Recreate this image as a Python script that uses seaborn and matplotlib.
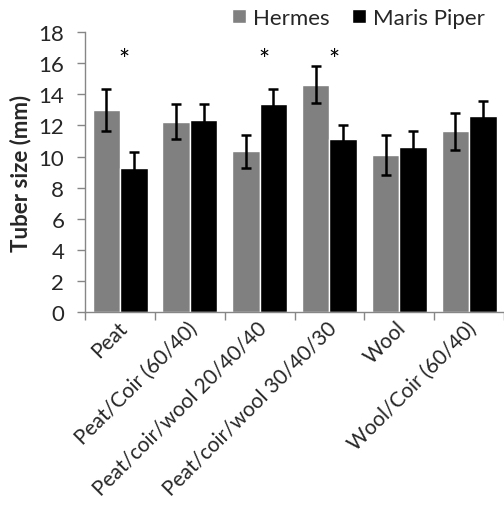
import matplotlib
matplotlib.use("Agg")
import matplotlib.pyplot as plt
import matplotlib.transforms as mtransforms
import seaborn as sns
import pandas as pd

categories = ["Peat", "Peat/Coir (60/40)", "Peat/coir/wool 20/40/40",
              "Peat/coir/wool 30/40/30", "Wool", "Wool/Coir (60/40)"]
hermes = [13.0, 12.25, 10.33, 14.62, 10.12, 11.62]
hermes_err = [1.35, 1.1, 1.05, 1.18, 1.3, 1.2]
maris = [9.25, 12.35, 13.35, 11.12, 10.63, 12.62]
maris_err = [1.02, 1.02, 1.02, 0.9, 1.02, 0.97]
varieties = ["Hermes", "Maris Piper"]
star_cats = ["Peat", "Peat/coir/wool 20/40/40", "Peat/coir/wool 30/40/30"]
yticks = list(range(0, 19, 2))

sns.set_theme(style="white")
plt.rcParams['font.family'] = ['Lato', 'DejaVu Sans']

df = pd.DataFrame({
    "substrate": categories * 2,
    "size": hermes + maris,
    "err": hermes_err + maris_err,
    "variety": [varieties[0]] * len(categories) + [varieties[1]] * len(categories),
})

fig = plt.figure(figsize=(5.04, 5.10), dpi=100)
ax = fig.add_axes([0.169, 0.386, 0.831, 0.549])

sns.barplot(data=df, x="substrate", y="size", hue="variety", order=categories,
            hue_order=varieties, palette=["#808080", "#000000"], width=0.79,
            errorbar=None, saturation=1, ax=ax, legend=True)

errs = [hermes_err, maris_err]
for cont, e in zip(ax.containers, errs):
    xs = [p.get_x() + p.get_width() / 2 for p in cont.patches]
    hs = [p.get_height() for p in cont.patches]
    ax.errorbar(xs, hs, yerr=e, fmt="none", ecolor="black", elinewidth=1.8,
                capsize=3.8, capthick=1.8)

for c in star_cats:
    i = categories.index(c)
    ax.text(i + 0.06, 16.2, "*", ha="center", va="center", fontsize=19, color="black")

ax.set_ylim(0, 18)
ax.set_xlim(-0.5, len(categories) - 0.5)
ax.set_yticks(yticks)
ax.set_yticklabels([str(t) for t in yticks], fontsize=16)
ax.set_xticks(range(len(categories)))
ax.set_xticklabels(categories, rotation=45, ha="right", rotation_mode="anchor", fontsize=15)
ax.tick_params(axis="x", length=0, pad=4)
ax.tick_params(axis="y", left=True, length=6, width=1, color="#868686", pad=9)
offset = mtransforms.ScaledTranslation(-3 / 100, 0, fig.dpi_scale_trans)
for lab in ax.get_xticklabels():
    lab.set_transform(lab.get_transform() + offset)
# category boundary ticks
ax.set_xticks([i - 0.5 for i in range(len(categories) + 1)], minor=True)
ax.tick_params(axis="x", which="minor", bottom=True, length=6, width=1, color="#868686")
ax.set_xlabel("")
ax.set_ylabel("Tuber size (mm)", fontsize=16, fontweight="bold", labelpad=5)

for s in ["top", "right"]:
    ax.spines[s].set_visible(False)
for s in ["left", "bottom"]:
    ax.spines[s].set_color("#868686")
    ax.spines[s].set_linewidth(1)

leg = ax.get_legend()
handles = leg.legend_handles
leg.remove()
fig.legend(handles, varieties, loc="upper right", bbox_to_anchor=(0.985, 1.005), ncol=2,
           frameon=False, fontsize=16, handlelength=0.6, handleheight=0.6,
           handletextpad=0.35, columnspacing=1.0, borderaxespad=0.1)

fig.savefig("out.png", dpi=100)
